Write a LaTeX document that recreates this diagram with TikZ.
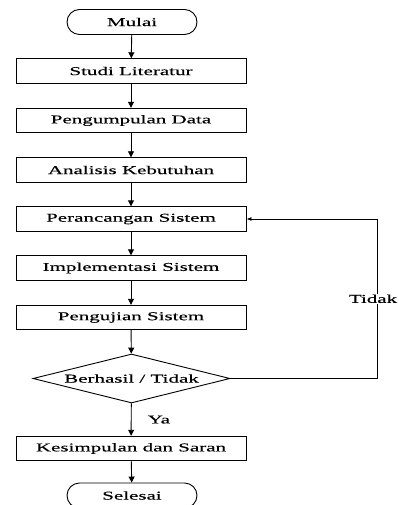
\documentclass[tikz,border=0pt]{standalone}
\usepackage{fontspec}
\setmainfont{Liberation Serif}[FakeStretch=1.75,FakeBold=0.35]
\usetikzlibrary{arrows.meta,shapes.geometric,shapes.misc}
\begin{document}
\begin{tikzpicture}[x=1bp,y=-1bp,
  every node/.style={font=\fontsize{12bp}{14bp}\selectfont},
  procbox/.style={draw,line width=0.9bp,rectangle,minimum width=230bp,minimum height=24.5bp,inner sep=0pt},
  termbox/.style={draw,line width=0.9bp,rounded rectangle,minimum width=130bp,minimum height=25bp,inner sep=0pt},
  decbox/.style={draw,line width=0.9bp,diamond,aspect=4.02,minimum width=197bp,minimum height=49bp,inner sep=0pt},
  flow/.style={line width=0.9bp,-{Triangle[length=6bp,width=6bp]}},
  back/.style={line width=0.8bp,-{Latex[length=5bp,width=4bp]}},
  lbl/.style={fill=white,inner sep=1bp}]
\useasboundingbox (0,0) rectangle (398,505);
\node[termbox] (mulai) at (132,22) {Mulai};
\node[procbox] (studi) at (131,71) {Studi Literatur};
\node[procbox] (kumpul) at (131,120.5) {Pengumpulan Data};
\node[procbox] (analisis) at (131,170) {Analisis Kebutuhan};
\node[procbox] (rancang) at (131,219) {Perancangan Sistem};
\node[procbox] (impl) at (131,268) {Implementasi Sistem};
\node[procbox] (uji) at (131,317.5) {Pengujian Sistem};
\node[decbox] (cek) at (131.5,378.5) {Berhasil / Tidak};
\node[procbox] (simpul) at (131,448.5) {Kesimpulan dan Saran};
\node[termbox] (selesai) at (132,495.5) {Selesai};
\coordinate (c1) at (377,378.5);
\coordinate (c2) at (377,219);
\draw[flow] (mulai) -- (studi);
\draw[flow] (studi) -- (kumpul);
\draw[flow] (kumpul) -- (analisis);
\draw[flow] (analisis) -- (rancang);
\draw[flow] (rancang) -- (impl);
\draw[flow] (impl) -- (uji);
\draw[flow] (uji) -- (cek);
\draw[flow] (cek) -- node[pos=0.5,right=16bp,inner sep=0pt] (ya) {Ya} (simpul);
\draw[flow] (simpul) -- (selesai);
\draw[back] (cek.east) -- (c1) -- node[pos=0.5,lbl,xshift=-4bp] (tidak) {Tidak} (c2) -- (rancang.east);
\end{tikzpicture}
\end{document}
